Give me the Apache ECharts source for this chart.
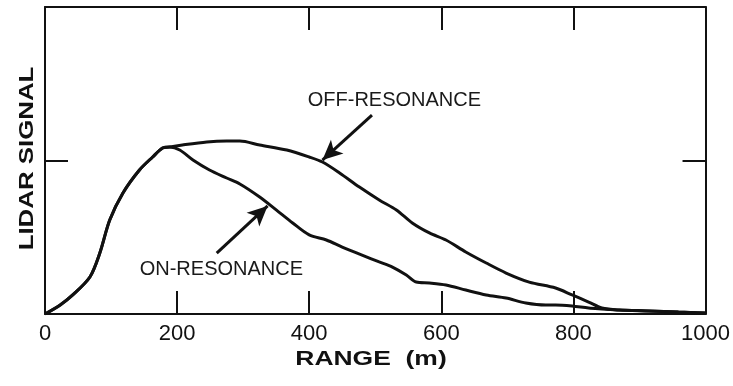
<!DOCTYPE html>
<html>
<head>
<meta charset="utf-8">
<script src="https://cdn.jsdelivr.net/npm/echarts@6/dist/echarts.min.js"></script>
<style>
  html, body { margin: 0; padding: 0; background: #fff; }
  #chart { width: 733px; height: 386px; }
</style>
</head>
<body>
<div id="chart"></div>
<script>
// Range (m) and relative lidar return for the two wavelengths
const rangeOn = [0, 23, 42, 68, 83, 98, 118, 143, 163, 178, 189, 204, 224, 249, 275, 295, 325, 350, 375, 400, 426, 450, 480, 506, 526, 547, 562, 582, 607, 637, 668, 698, 728, 758, 773, 798, 823, 843, 869, 914, 959, 1000];
const signalOn = [0, 0.059, 0.124, 0.241, 0.397, 0.612, 0.788, 0.938, 1.023, 1.081, 1.088, 1.068, 1.003, 0.938, 0.886, 0.847, 0.762, 0.678, 0.593, 0.515, 0.482, 0.436, 0.384, 0.339, 0.306, 0.254, 0.208, 0.202, 0.189, 0.156, 0.124, 0.104, 0.072, 0.059, 0.059, 0.052, 0.039, 0.033, 0.026, 0.020, 0.013, 0.007];

const rangeOff = [0, 23, 42, 68, 83, 98, 118, 143, 163, 178, 189, 208, 245, 275, 295, 325, 366, 400, 420, 446, 476, 506, 532, 556, 582, 607, 637, 668, 698, 733, 773, 798, 823, 843, 869, 914, 959, 1000];
const signalOff = [0, 0.059, 0.124, 0.241, 0.397, 0.612, 0.788, 0.938, 1.023, 1.081, 1.088, 1.101, 1.121, 1.127, 1.127, 1.101, 1.068, 1.023, 0.990, 0.919, 0.827, 0.743, 0.678, 0.593, 0.528, 0.482, 0.404, 0.332, 0.267, 0.208, 0.169, 0.124, 0.078, 0.039, 0.026, 0.020, 0.013, 0.007];

const rangeTicks = [0, 200, 400, 600, 800, 1000];

// Callouts: text anchor and arrow (tail -> head) in data units
const offLabel = { text: 'OFF-RESONANCE', at: [529, 1.388] };
const offArrow = [[495, 1.296], [420, 1.003]];
const onLabel = { text: 'ON-RESONANCE', at: [267, 0.287] };
const onArrow = [[260, 0.397], [337, 0.704]];

const ink = '#111';
const zip = (xs, ys) => xs.map((x, i) => [x, ys[i]]);

const chart = echarts.init(document.getElementById('chart'));

const baseX = {
  type: 'value', min: rangeTicks[0], max: rangeTicks[rangeTicks.length - 1], interval: 200,
  axisLine: { show: true, onZero: false, lineStyle: { color: ink, width: 2 } },
  axisTick: { show: true, inside: true, length: 23, lineStyle: { color: ink, width: 2 } },
  splitLine: { show: false }
};
const baseY = {
  type: 'value', min: 0, max: 2, interval: 1,
  axisLine: { show: true, onZero: false, lineStyle: { color: ink, width: 2 } },
  axisTick: { show: true, inside: true, length: 23, lineStyle: { color: ink, width: 2 } },
  axisLabel: { show: false },
  splitLine: { show: false }
};

function callout(lbl, arrow) {
  return {
    markLine: {
      silent: true,
      symbol: ['none', 'arrow'],
      symbolSize: [14, 20],
      lineStyle: { color: ink, width: 3, type: 'solid' },
      label: { show: false },
      data: [[{ coord: arrow[0] }, { coord: arrow[1] }]]
    },
    markPoint: {
      silent: true,
      symbol: 'rect',
      symbolSize: 0,
      label: {
        show: true, position: 'inside', formatter: lbl.text,
        color: '#1a1a1a', fontSize: 20, fontFamily: 'Liberation Sans'
      },
      data: [{ coord: lbl.at }]
    }
  };
}

chart.setOption({
  backgroundColor: '#fff',
  animation: false,
  grid: { left: 45, right: 26, top: 7, bottom: 72 },
  xAxis: [
    Object.assign({}, baseX, {
      position: 'bottom',
      axisLabel: { show: true, color: ink, fontSize: 22, fontFamily: 'Liberation Sans', margin: 9,
        showMinLabel: true, showMaxLabel: true, formatter: v => String(v) }
    }),
    Object.assign({}, baseX, { position: 'top', axisLabel: { show: false } })
  ],
  yAxis: [
    Object.assign({}, baseY, { position: 'left' }),
    Object.assign({}, baseY, { position: 'right' })
  ],
  graphic: [
    {
      type: 'text', x: 371, y: 359, scaleX: 1.26,
      style: { text: 'RANGE  (m)', fill: ink, font: 'bold 21px "Liberation Sans"',
        textAlign: 'center', textVerticalAlign: 'middle' }
    },
    {
      type: 'text', x: 27.5, y: 158.5, rotation: Math.PI / 2, scaleX: 1.23,
      style: { text: 'LIDAR SIGNAL', fill: ink, font: 'bold 21px "Liberation Sans"',
        textAlign: 'center', textVerticalAlign: 'middle' }
    }
  ],
  series: [
    Object.assign({
      name: 'OFF-RESONANCE', type: 'line', xAxisIndex: 0, yAxisIndex: 0,
      data: zip(rangeOff, signalOff), showSymbol: false, smooth: 0.3,
      lineStyle: { color: ink, width: 3 }, itemStyle: { color: ink }, z: 3
    }, callout(offLabel, offArrow)),
    Object.assign({
      name: 'ON-RESONANCE', type: 'line', xAxisIndex: 0, yAxisIndex: 0,
      data: zip(rangeOn, signalOn), showSymbol: false, smooth: 0.3,
      lineStyle: { color: ink, width: 3 }, itemStyle: { color: ink }, z: 3
    }, callout(onLabel, onArrow))
  ]
});
</script>
</body>
</html>
